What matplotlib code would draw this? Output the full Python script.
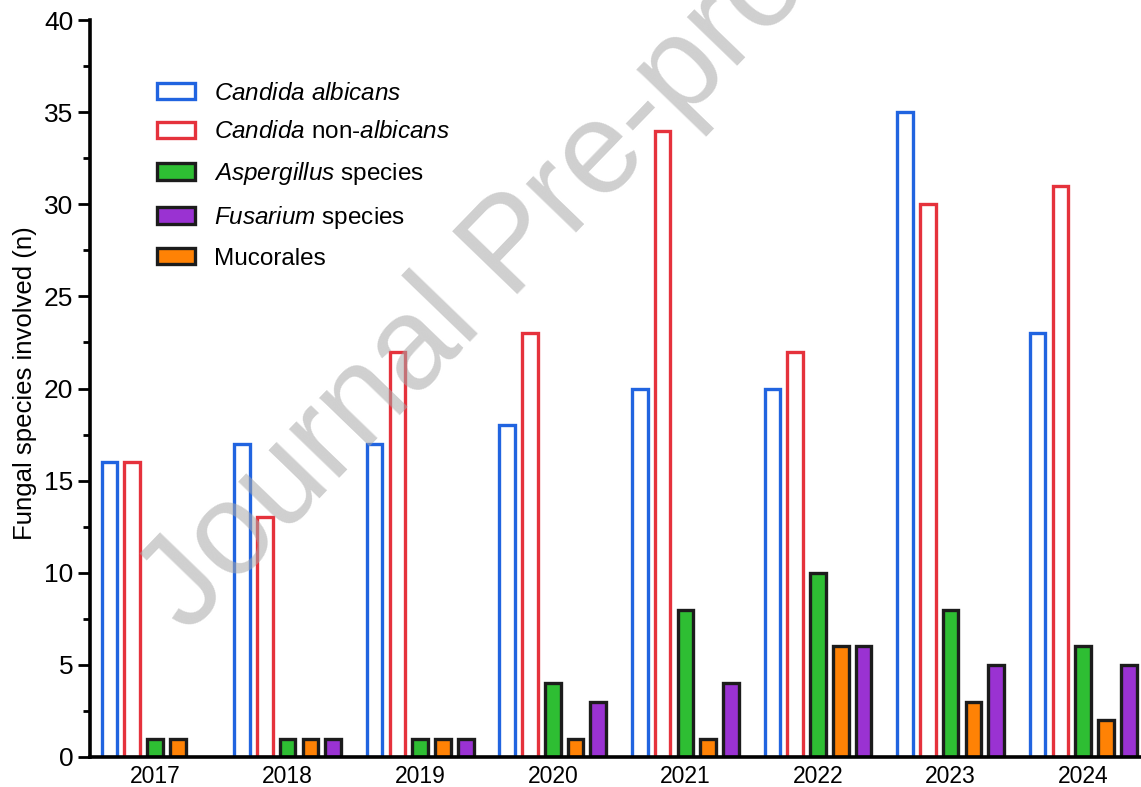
import numpy as np
import matplotlib
matplotlib.use("Agg")
import matplotlib.pyplot as plt
from matplotlib.ticker import MultipleLocator

plt.rcParams["font.family"] = ["Liberation Sans", "DejaVu Sans"]
plt.rcParams["mathtext.fontset"] = "custom"
plt.rcParams["mathtext.rm"] = "Liberation Sans"
plt.rcParams["mathtext.it"] = "Liberation Sans:italic"

years = ["2017", "2018", "2019", "2020", "2021", "2022", "2023", "2024"]
c_albicans = [16, 17, 17, 18, 20, 20, 35, 23]
c_non_albicans = [16, 13, 22, 23, 34, 22, 30, 31]
aspergillus = [1, 1, 1, 4, 8, 10, 8, 6]
mucorales = [1, 1, 1, 1, 1, 6, 3, 2]
fusarium = [0, 1, 1, 3, 4, 6, 5, 5]

BLUE = "#2164E0"
RED = "#E5323C"
GREEN = "#2EBE33"
ORANGE = "#FF8205"
PURPLE = "#9A32D2"
EDGE = "#1c1c1c"

W, H = 1141, 787
fig = plt.figure(figsize=(W / 100, H / 100), dpi=100)
ax = fig.add_axes([90 / W, 30 / H, 1051 / W, 737 / H])

x = np.arange(len(years))
step = 0.1717
width = 0.118
lw = 2.4

# bar order within a year: albicans, non-albicans, Aspergillus, Mucorales, Fusarium
ax.bar(x - 2 * step, c_albicans, width, facecolor="none", edgecolor=BLUE, linewidth=lw,
       label=r"$\mathit{Candida}$ $\mathit{albicans}$")
ax.bar(x - step, c_non_albicans, width, facecolor="none", edgecolor=RED, linewidth=lw,
       label=r"$\mathit{Candida}$ non-$\mathit{albicans}$")
ax.bar(x, aspergillus, width, color=GREEN, edgecolor=EDGE, linewidth=lw,
       label=r"$\mathit{Aspergillus}$ species")
ax.bar(x + step, mucorales, width, color=ORANGE, edgecolor=EDGE, linewidth=lw,
       label="Mucorales")
ax.bar(x + 2 * step, [v if v > 0 else np.nan for v in fusarium], width,
       color=PURPLE, edgecolor=EDGE, linewidth=lw,
       label=r"$\mathit{Fusarium}$ species")

ax.set_xlim(-0.49, 7.436)
ax.set_ylim(0, 40)
ax.set_xticks(x)
ax.set_xticklabels(years, fontsize=16.5)
ax.yaxis.set_major_locator(MultipleLocator(5))
ax.yaxis.set_minor_locator(MultipleLocator(2.5))
ax.tick_params(axis="y", which="major", length=9, width=2.0, labelsize=19, pad=3)
ax.tick_params(axis="y", which="minor", length=5, width=2.0)
ax.tick_params(axis="x", length=0, pad=6)
for s in ["top", "right"]:
    ax.spines[s].set_visible(False)
for s in ["left", "bottom"]:
    ax.spines[s].set_linewidth(2.6)
ax.set_ylabel("Fungal species involved (n)", fontsize=18.5)
ax.yaxis.set_label_coords(-0.0505, 0.507)

handles, labels = ax.get_legend_handles_labels()
order = [0, 1, 2, 4, 3]
ax.legend([handles[i] for i in order], [labels[i] for i in order],
          loc="upper left", bbox_to_anchor=(0.0637, 0.915), frameon=False,
          fontsize=17.5, handlelength=1.56, handleheight=0.66, handletextpad=0.78,
          labelspacing=0.69, borderpad=0, borderaxespad=0)

fig.text(513 / W, 1 - 249 / H, "Journal Pre-proof", fontsize=94, color="#a8a8a8",
         alpha=0.55, rotation=46, rotation_mode="anchor", ha="center", va="center",
         zorder=10)

fig.savefig("out.png", dpi=100)
